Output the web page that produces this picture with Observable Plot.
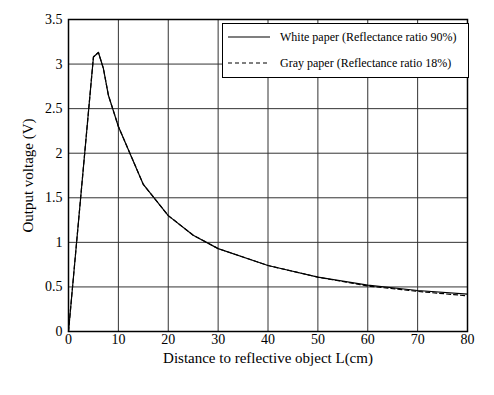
<!DOCTYPE html>
<html><head><meta charset="utf-8">
<script src="https://cdn.jsdelivr.net/npm/d3@7"></script>
<script src="https://cdn.jsdelivr.net/npm/@observablehq/plot@0.6"></script>
<style>body{margin:0;background:#fff}</style>
</head><body><div id="chart"></div>
<script>
const distance = [0, 5, 6, 7, 8, 10, 15, 20, 25, 30, 40, 50, 60, 70, 80];
const whiteVolt = [0, 3.08, 3.13, 2.95, 2.65, 2.3, 1.65, 1.3, 1.08, 0.93, 0.74, 0.61, 0.52, 0.46, 0.42];
const grayVolt  = [0, 3.08, 3.13, 2.95, 2.65, 2.3, 1.65, 1.3, 1.08, 0.93, 0.74, 0.61, 0.51, 0.45, 0.40];
const xTicks = [0, 10, 20, 30, 40, 50, 60, 70, 80];
const yTicks = [0, 0.5, 1, 1.5, 2, 2.5, 3, 3.5];
const seriesNames = ["White paper (Reflectance ratio 90%)", "Gray paper (Reflectance ratio 18%)"];
const xLabel = "Distance to reflective object L(cm)";
const yLabel = "Output voltage (V)";

const white = distance.map((d, i) => ({x: d, y: whiteVolt[i]}));
const gray = distance.map((d, i) => ({x: d, y: grayVolt[i]}));

const chart = Plot.plot({
  width: 494, height: 395,
  marginLeft: 68, marginRight: 27, marginTop: 19, marginBottom: 64,
  style: {fontFamily: "'Liberation Serif', 'Times New Roman', serif", fontSize: "14px", color: "black", background: "white"},
  x: {domain: [0, 80], ticks: xTicks, label: null},
  y: {domain: [0, 3.5], ticks: yTicks, label: null},
  marks: [
    Plot.gridX(xTicks, {stroke: "#333", strokeOpacity: 1, strokeWidth: 1}),
    Plot.gridY(yTicks, {stroke: "#333", strokeOpacity: 1, strokeWidth: 1}),
    Plot.axisX(xTicks, {tickSize: 0, tickPadding: 3, label: null, tickFormat: d => String(d), fontSize: 14}),
    Plot.axisY(yTicks, {tickSize: 0, tickPadding: 6, label: null, tickFormat: d => String(d), fontSize: 14}),
    Plot.frame({stroke: "black", strokeWidth: 1.5}),
    Plot.line(white, {x: "x", y: "y", stroke: "black", strokeWidth: 1.2}),
    Plot.line(gray, {x: "x", y: "y", stroke: "black", strokeWidth: 1.2, strokeDasharray: "4,3"}),
    Plot.text([xLabel], {frameAnchor: "bottom", dy: 31, fontSize: 15, textAnchor: "middle"}),
    Plot.text([yLabel], {frameAnchor: "left", dx: -40, rotate: -90, fontSize: 15, textAnchor: "middle"})
  ]
});
document.getElementById("chart").appendChild(chart);

// legend box
const svg = d3.select(chart);
const lg = svg.append("g").attr("font-family", "'Liberation Serif', 'Times New Roman', serif")
  .attr("font-size", 12).attr("text-anchor", "start");
lg.append("rect").attr("x", 222.5).attr("y", 23.5).attr("width", 246).attr("height", 54)
  .attr("fill", "white").attr("stroke", "black").attr("stroke-width", 1);
const rows = [{y: 37, dash: null}, {y: 63, dash: "4,3"}];
rows.forEach((r, i) => {
  lg.append("line").attr("x1", 228).attr("x2", 270).attr("y1", r.y).attr("y2", r.y)
    .attr("stroke", "black").attr("stroke-width", 1.2).attr("stroke-dasharray", r.dash);
  lg.append("text").attr("x", 280).attr("y", r.y).attr("dy", "0.35em")
    .attr("text-anchor", "start").text(seriesNames[i]);
});
</script>
</body></html>
